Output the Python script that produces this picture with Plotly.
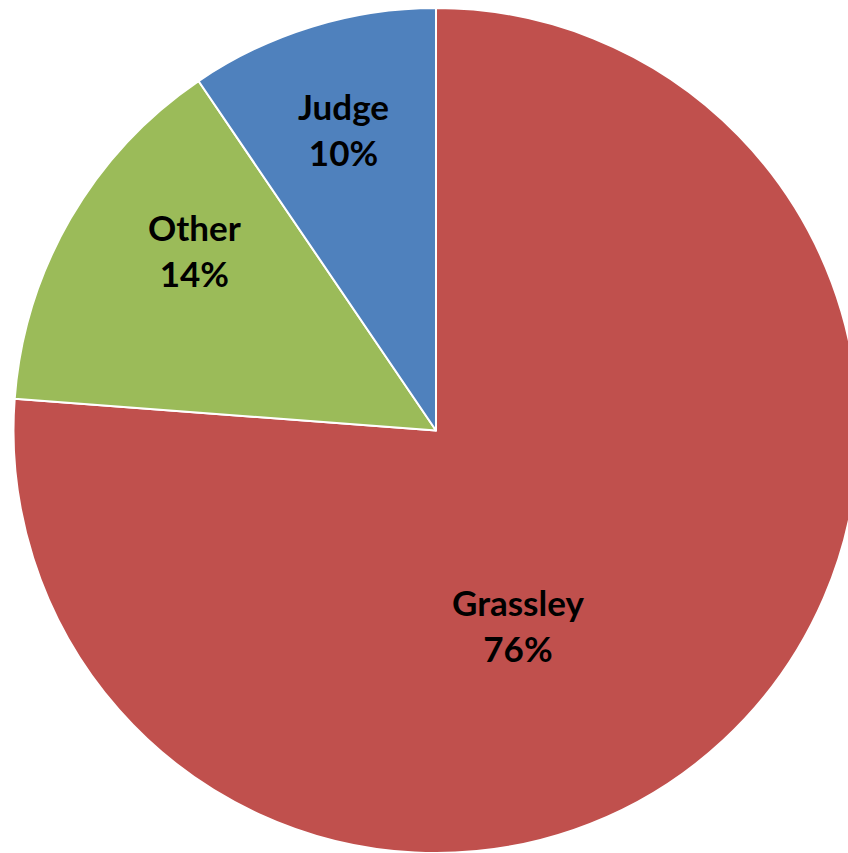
import math
import plotly.graph_objects as go

labels = ["Grassley", "Other", "Judge"]
values = [76.2, 14.3, 9.5]
pct_labels = ["76%", "14%", "10%"]
colors = ["#C0504D", "#9BBB59", "#4F81BD"]

# label placement style (angle offset from slice mid-angle in degrees, radial fraction)
label_angle_offset = [20.0, 6.7, 0.0]
label_radius_frac = [0.50, 0.714, 0.746]

W, H = 872, 853
DOM_W, DOM_H = 872, 845
R = min(DOM_W, DOM_H) / 2
CX, CY = DOM_W / 2, (H - DOM_H) + DOM_H / 2

fig = go.Figure(go.Pie(
    labels=labels,
    values=values,
    sort=False,
    direction="clockwise",
    rotation=0,
    marker=dict(colors=colors, line=dict(color="white", width=2)),
    textinfo="none",
    hoverinfo="label+percent",
    domain=dict(x=[0, DOM_W / W], y=[0, DOM_H / H]),
    showlegend=False,
))

total = sum(values)
cum = 0.0
annotations = []
for lab, v, p, off, rf in zip(labels, values, pct_labels, label_angle_offset, label_radius_frac):
    mid = (cum + v / 2) / total * 360.0 + off
    cum += v
    a = math.radians(mid)
    px = CX + rf * R * math.sin(a)
    py = CY - rf * R * math.cos(a)
    annotations.append(dict(
        x=px / W, y=1 - py / H, xref="paper", yref="paper",
        text=f"<b>{lab}<br>{p}</b>", showarrow=False,
        xanchor="center", yanchor="middle",
        font=dict(family="Lato, Carlito, Calibri, sans-serif", size=35, color="black"),
    ))

fig.update_layout(
    width=W, height=H,
    margin=dict(l=0, r=0, t=0, b=0),
    paper_bgcolor="white",
    plot_bgcolor="white",
    annotations=annotations,
)
fig.write_html(
    "out.html",
    config={"displayModeBar": False},
    post_script="document.body.style.margin='0';document.documentElement.style.overflow='hidden';",
)
